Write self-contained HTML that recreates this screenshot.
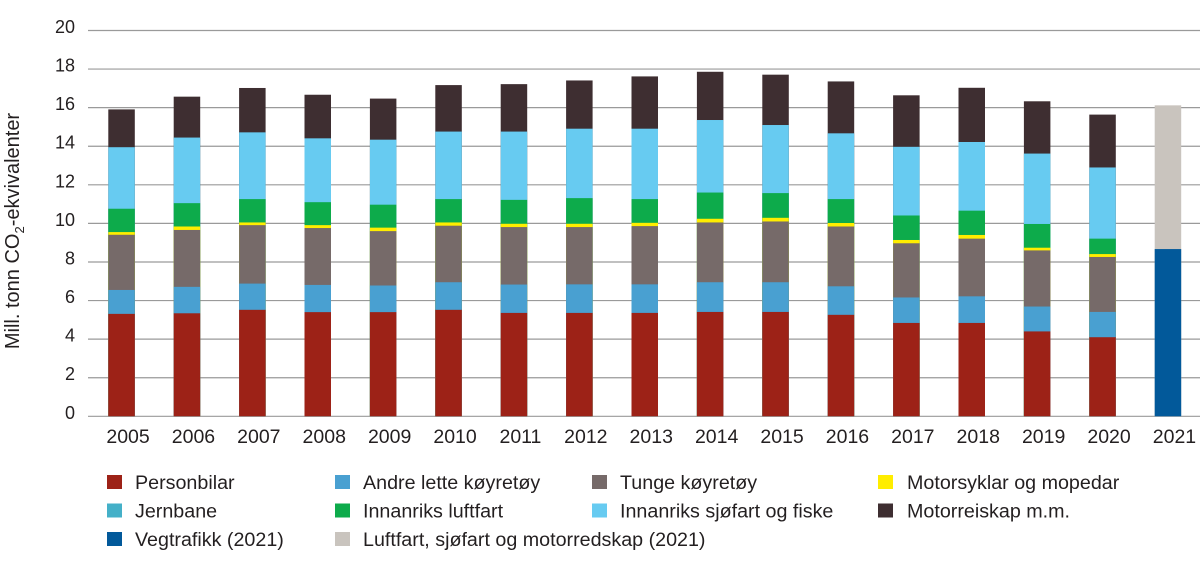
<!DOCTYPE html>
<html>
<head>
<meta charset="utf-8">
<style>
html,body{margin:0;padding:0;background:#fff;}
svg{display:block;}
text{font-family:"Liberation Sans",Arial,sans-serif;fill:#231f20;}
.r{fill:#9d2217}.b{fill:#49a0d1}.g{fill:#766a69}.y{fill:#ffed00}.j{fill:#44b0c8}.l{fill:#0dab4b}.s{fill:#67cbf1}.d{fill:#3e2e31}.v{fill:#02599a}.c{fill:#c9c4be}
</style>
</head>
<body>
<svg width="1200" height="567" viewBox="0 0 1200 567" xmlns="http://www.w3.org/2000/svg">
<g stroke="#9a9a9a" stroke-width="1.2">
<line x1="88" x2="1200" y1="416.3" y2="416.3"/>
<line x1="88" x2="1200" y1="377.72" y2="377.72"/>
<line x1="88" x2="1200" y1="339.14" y2="339.14"/>
<line x1="88" x2="1200" y1="300.56" y2="300.56"/>
<line x1="88" x2="1200" y1="261.98" y2="261.98"/>
<line x1="88" x2="1200" y1="223.4" y2="223.4"/>
<line x1="88" x2="1200" y1="184.82" y2="184.82"/>
<line x1="88" x2="1200" y1="146.24" y2="146.24"/>
<line x1="88" x2="1200" y1="107.66" y2="107.66"/>
<line x1="88" x2="1200" y1="69.08" y2="69.08"/>
<line x1="88" x2="1200" y1="30.5" y2="30.5"/>
</g>
<g font-size="18" text-anchor="end">
<text x="75" y="418.8">0</text>
<text x="75" y="380.2">2</text>
<text x="75" y="341.6">4</text>
<text x="75" y="303.1">6</text>
<text x="75" y="264.5">8</text>
<text x="75" y="225.9">10</text>
<text x="75" y="187.3">12</text>
<text x="75" y="148.7">14</text>
<text x="75" y="110.2">16</text>
<text x="75" y="71.6">18</text>
<text x="75" y="33.0">20</text>
</g>
<text transform="translate(19,231) rotate(-90)" font-size="20" text-anchor="middle">Mill. tonn CO<tspan font-size="13" dy="5">2</tspan><tspan dy="-5">-ekvivalenter</tspan></text>

<g transform="translate(108.3,0)">
<rect class="d" x="0" width="26.5" y="109.40" height="306.90"/>
<rect class="s" x="0" width="26.5" y="147.20" height="269.10"/>
<rect class="l" x="0" width="26.5" y="208.74" height="207.56"/>
<rect class="y" x="0" width="26.5" y="232.08" height="184.22"/>
<rect class="g" x="0" width="26.5" y="234.78" height="181.52"/>
<rect class="b" x="0" width="26.5" y="289.95" height="126.35"/>
<rect class="r" x="0" width="26.5" y="313.87" height="102.43"/>
</g>
<g transform="translate(173.7,0)">
<rect class="d" x="0" width="26.5" y="96.66" height="319.64"/>
<rect class="s" x="0" width="26.5" y="137.56" height="278.74"/>
<rect class="l" x="0" width="26.5" y="203.15" height="213.15"/>
<rect class="y" x="0" width="26.5" y="226.49" height="189.81"/>
<rect class="g" x="0" width="26.5" y="229.96" height="186.34"/>
<rect class="b" x="0" width="26.5" y="286.86" height="129.44"/>
<rect class="r" x="0" width="26.5" y="313.29" height="103.01"/>
</g>
<g transform="translate(239.1,0)">
<rect class="d" x="0" width="26.5" y="87.98" height="328.32"/>
<rect class="s" x="0" width="26.5" y="132.35" height="283.95"/>
<rect class="l" x="0" width="26.5" y="199.09" height="217.21"/>
<rect class="y" x="0" width="26.5" y="222.44" height="193.86"/>
<rect class="g" x="0" width="26.5" y="225.14" height="191.16"/>
<rect class="b" x="0" width="26.5" y="283.58" height="132.72"/>
<rect class="r" x="0" width="26.5" y="309.82" height="106.48"/>
</g>
<g transform="translate(304.5,0)">
<rect class="d" x="0" width="26.5" y="94.74" height="321.56"/>
<rect class="s" x="0" width="26.5" y="138.33" height="277.97"/>
<rect class="l" x="0" width="26.5" y="202.18" height="214.12"/>
<rect class="y" x="0" width="26.5" y="225.14" height="191.16"/>
<rect class="g" x="0" width="26.5" y="228.03" height="188.27"/>
<rect class="b" x="0" width="26.5" y="284.94" height="131.36"/>
<rect class="r" x="0" width="26.5" y="312.13" height="104.17"/>
</g>
<g transform="translate(369.9,0)">
<rect class="d" x="0" width="26.5" y="98.59" height="317.71"/>
<rect class="s" x="0" width="26.5" y="139.68" height="276.62"/>
<rect class="l" x="0" width="26.5" y="204.69" height="211.61"/>
<rect class="y" x="0" width="26.5" y="227.64" height="188.66"/>
<rect class="g" x="0" width="26.5" y="231.12" height="185.18"/>
<rect class="b" x="0" width="26.5" y="285.51" height="130.79"/>
<rect class="r" x="0" width="26.5" y="312.13" height="104.17"/>
</g>
<g transform="translate(435.3,0)">
<rect class="d" x="0" width="26.5" y="85.09" height="331.21"/>
<rect class="s" x="0" width="26.5" y="131.58" height="284.72"/>
<rect class="l" x="0" width="26.5" y="199.09" height="217.21"/>
<rect class="y" x="0" width="26.5" y="222.44" height="193.86"/>
<rect class="g" x="0" width="26.5" y="225.71" height="190.59"/>
<rect class="b" x="0" width="26.5" y="282.23" height="134.07"/>
<rect class="r" x="0" width="26.5" y="309.82" height="106.48"/>
</g>
<g transform="translate(500.7,0)">
<rect class="d" x="0" width="26.5" y="84.13" height="332.17"/>
<rect class="s" x="0" width="26.5" y="131.58" height="284.72"/>
<rect class="l" x="0" width="26.5" y="199.87" height="216.43"/>
<rect class="y" x="0" width="26.5" y="223.79" height="192.51"/>
<rect class="g" x="0" width="26.5" y="227.07" height="189.23"/>
<rect class="b" x="0" width="26.5" y="284.55" height="131.75"/>
<rect class="r" x="0" width="26.5" y="312.91" height="103.39"/>
</g>
<g transform="translate(566.1,0)">
<rect class="d" x="0" width="26.5" y="80.46" height="335.84"/>
<rect class="s" x="0" width="26.5" y="128.69" height="287.61"/>
<rect class="l" x="0" width="26.5" y="198.13" height="218.17"/>
<rect class="y" x="0" width="26.5" y="223.79" height="192.51"/>
<rect class="g" x="0" width="26.5" y="227.07" height="189.23"/>
<rect class="b" x="0" width="26.5" y="284.36" height="131.94"/>
<rect class="r" x="0" width="26.5" y="312.91" height="103.39"/>
</g>
<g transform="translate(631.5,0)">
<rect class="d" x="0" width="26.5" y="76.41" height="339.89"/>
<rect class="s" x="0" width="26.5" y="128.69" height="287.61"/>
<rect class="l" x="0" width="26.5" y="199.09" height="217.21"/>
<rect class="y" x="0" width="26.5" y="222.82" height="193.48"/>
<rect class="g" x="0" width="26.5" y="226.10" height="190.20"/>
<rect class="b" x="0" width="26.5" y="284.36" height="131.94"/>
<rect class="r" x="0" width="26.5" y="312.91" height="103.39"/>
</g>
<g transform="translate(696.9,0)">
<rect class="d" x="0" width="26.5" y="71.78" height="344.52"/>
<rect class="s" x="0" width="26.5" y="120.01" height="296.29"/>
<rect class="l" x="0" width="26.5" y="192.54" height="223.76"/>
<rect class="y" x="0" width="26.5" y="218.77" height="197.53"/>
<rect class="g" x="0" width="26.5" y="222.44" height="193.86"/>
<rect class="b" x="0" width="26.5" y="282.23" height="134.07"/>
<rect class="r" x="0" width="26.5" y="311.94" height="104.36"/>
</g>
<g transform="translate(762.3,0)">
<rect class="d" x="0" width="26.5" y="74.67" height="341.63"/>
<rect class="s" x="0" width="26.5" y="125.02" height="291.28"/>
<rect class="l" x="0" width="26.5" y="193.11" height="223.19"/>
<rect class="y" x="0" width="26.5" y="217.81" height="198.49"/>
<rect class="g" x="0" width="26.5" y="221.47" height="194.83"/>
<rect class="b" x="0" width="26.5" y="282.23" height="134.07"/>
<rect class="r" x="0" width="26.5" y="311.94" height="104.36"/>
</g>
<g transform="translate(827.7,0)">
<rect class="d" x="0" width="26.5" y="81.43" height="334.87"/>
<rect class="s" x="0" width="26.5" y="133.32" height="282.98"/>
<rect class="l" x="0" width="26.5" y="199.09" height="217.21"/>
<rect class="y" x="0" width="26.5" y="223.01" height="193.29"/>
<rect class="g" x="0" width="26.5" y="226.49" height="189.81"/>
<rect class="b" x="0" width="26.5" y="286.29" height="130.01"/>
<rect class="r" x="0" width="26.5" y="314.83" height="101.47"/>
</g>
<g transform="translate(893.1,0)">
<rect class="d" x="0" width="26.5" y="95.31" height="320.99"/>
<rect class="s" x="0" width="26.5" y="146.82" height="269.48"/>
<rect class="l" x="0" width="26.5" y="215.49" height="200.81"/>
<rect class="y" x="0" width="26.5" y="239.99" height="176.31"/>
<rect class="g" x="0" width="26.5" y="243.27" height="173.03"/>
<rect class="b" x="0" width="26.5" y="297.47" height="118.83"/>
<rect class="r" x="0" width="26.5" y="322.94" height="93.36"/>
</g>
<g transform="translate(958.5,0)">
<rect class="d" x="0" width="26.5" y="87.79" height="328.51"/>
<rect class="s" x="0" width="26.5" y="142.00" height="274.30"/>
<rect class="l" x="0" width="26.5" y="210.67" height="205.63"/>
<rect class="y" x="0" width="26.5" y="234.97" height="181.33"/>
<rect class="g" x="0" width="26.5" y="238.64" height="177.66"/>
<rect class="b" x="0" width="26.5" y="296.32" height="119.98"/>
<rect class="r" x="0" width="26.5" y="322.94" height="93.36"/>
</g>
<g transform="translate(1023.9,0)">
<rect class="d" x="0" width="26.5" y="101.29" height="315.01"/>
<rect class="s" x="0" width="26.5" y="153.57" height="262.73"/>
<rect class="l" x="0" width="26.5" y="223.98" height="192.32"/>
<rect class="y" x="0" width="26.5" y="247.71" height="168.59"/>
<rect class="g" x="0" width="26.5" y="250.41" height="165.89"/>
<rect class="b" x="0" width="26.5" y="306.54" height="109.76"/>
<rect class="r" x="0" width="26.5" y="331.42" height="84.88"/>
</g>
<g transform="translate(1089.3,0)">
<rect class="d" x="0" width="26.5" y="114.60" height="301.70"/>
<rect class="s" x="0" width="26.5" y="167.46" height="248.84"/>
<rect class="l" x="0" width="26.5" y="238.64" height="177.66"/>
<rect class="y" x="0" width="26.5" y="254.07" height="162.23"/>
<rect class="g" x="0" width="26.5" y="256.96" height="159.34"/>
<rect class="b" x="0" width="26.5" y="311.94" height="104.36"/>
<rect class="r" x="0" width="26.5" y="337.21" height="79.09"/>
</g>
<g transform="translate(1154.7,0)">
<rect class="c" x="0" width="26.5" y="105.35" height="310.95"/>
<rect class="v" x="0" width="26.5" y="249.06" height="167.24"/>
</g>

<g font-size="19.5" text-anchor="middle">
<text x="128.05" y="443">2005</text>
<text x="193.45" y="443">2006</text>
<text x="258.85" y="443">2007</text>
<text x="324.25" y="443">2008</text>
<text x="389.65" y="443">2009</text>
<text x="455.05" y="443">2010</text>
<text x="520.45" y="443">2011</text>
<text x="585.85" y="443">2012</text>
<text x="651.25" y="443">2013</text>
<text x="716.65" y="443">2014</text>
<text x="782.05" y="443">2015</text>
<text x="847.45" y="443">2016</text>
<text x="912.85" y="443">2017</text>
<text x="978.25" y="443">2018</text>
<text x="1043.65" y="443">2019</text>
<text x="1109.05" y="443">2020</text>
<text x="1174.45" y="443">2021</text>
</g>

<g>
<rect class="r" x="107" y="475" width="15" height="14"/>
<rect class="b" x="335" y="475" width="15" height="14"/>
<rect class="g" x="592" y="475" width="15" height="14"/>
<rect class="y" x="878" y="475" width="15" height="14"/>
<rect class="j" x="107" y="503.5" width="15" height="14"/>
<rect class="l" x="335" y="503.5" width="15" height="14"/>
<rect class="s" x="592" y="503.5" width="15" height="14"/>
<rect class="d" x="878" y="503.5" width="15" height="14"/>
<rect class="v" x="107" y="532" width="15" height="14"/>
<rect class="c" x="335" y="532" width="15" height="14"/>
</g>
<g font-size="19.7">
<text x="135" y="489">Personbilar</text>
<text x="363" y="489">Andre lette køyretøy</text>
<text x="620" y="489">Tunge køyretøy</text>
<text x="907" y="489">Motorsyklar og mopedar</text>
<text x="135" y="517.5">Jernbane</text>
<text x="363" y="517.5">Innanriks luftfart</text>
<text x="620" y="517.5">Innanriks sjøfart og fiske</text>
<text x="907" y="517.5">Motorreiskap m.m.</text>
<text x="135" y="546">Vegtrafikk (2021)</text>
<text x="363" y="546">Luftfart, sjøfart og motorredskap (2021)</text>
</g>
</svg>
</body>
</html>
